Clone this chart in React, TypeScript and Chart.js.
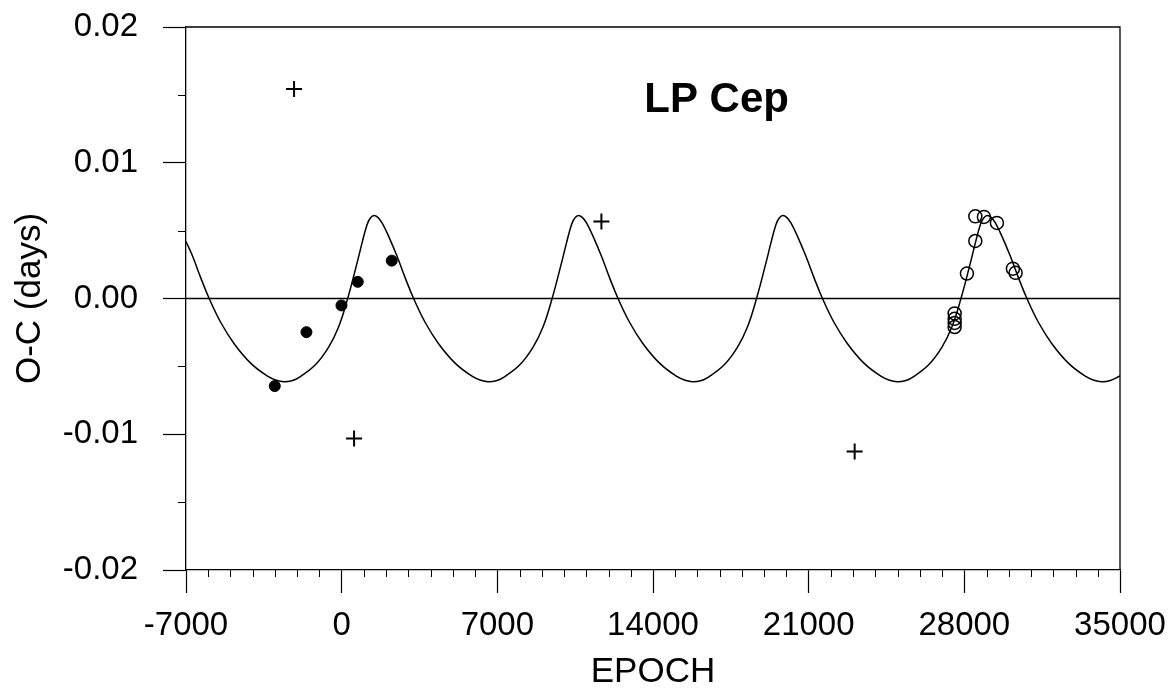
import React, { useEffect, useRef } from "react";
import { Chart, registerables } from "chart.js";

Chart.register(...registerables);

// ---- Data ----
const curveEpoch = [
  -7000, -6702, -6331, -5958, -5442, -4843, -4081, -3336, -2936,
  -2607, -2243, -1933, -1183, -585, -135, 270, 693, 917, 1141, 1291, 1457, 1637, 1817, 2113, 2491, 2862, 3235, 3751, 4350, 5112, 5857, 6257,
  6586, 6950, 7260, 8010, 8608, 9058, 9463, 9886, 10110, 10334, 10484, 10650, 10830, 11010, 11306, 11684, 12055, 12428, 12944, 13543, 14305, 15050, 15450,
  15779, 16143, 16453, 17203, 17801, 18251, 18656, 19079, 19303, 19527, 19677, 19843, 20023, 20203, 20499, 20877, 21248, 21621, 22137, 22736, 23498, 24243, 24643,
  24972, 25336, 25646, 26396, 26994, 27444, 27849, 28272, 28496, 28720, 28870, 29036, 29216, 29396, 29692, 30070, 30441, 30814, 31330, 31929, 32691, 33436, 33836,
  34165, 34529, 35000,
];
const curveOC = [
  0.0042, 0.00311, 0.0015, 0, -0.00175, -0.00331, -0.00478, -0.00572, -0.00602,
  -0.00613, -0.00606, -0.00583, -0.00488, -0.00358, -0.00208, 0, 0.00262, 0.0041, 0.00544, 0.00593, 0.00612, 0.00596, 0.00557, 0.00458, 0.00311, 0.0015, 0, -0.00175, -0.00331, -0.00478, -0.00572, -0.00602,
  -0.00613, -0.00606, -0.00583, -0.00488, -0.00358, -0.00208, 0, 0.00262, 0.0041, 0.00544, 0.00593, 0.00612, 0.00596, 0.00557, 0.00458, 0.00311, 0.0015, 0, -0.00175, -0.00331, -0.00478, -0.00572, -0.00602,
  -0.00613, -0.00606, -0.00583, -0.00488, -0.00358, -0.00208, 0, 0.00262, 0.0041, 0.00544, 0.00593, 0.00612, 0.00596, 0.00557, 0.00458, 0.00311, 0.0015, 0, -0.00175, -0.00331, -0.00478, -0.00572, -0.00602,
  -0.00613, -0.00606, -0.00583, -0.00488, -0.00358, -0.00208, 0, 0.00262, 0.0041, 0.00544, 0.00593, 0.00612, 0.00596, 0.00557, 0.00458, 0.00311, 0.0015, 0, -0.00175, -0.00331, -0.00478, -0.00572, -0.00602,
  -0.00613, -0.00606, -0.0057,
];

// filled circles
const filledEpoch = [-3008, -1583, -9, 724, 2252];
const filledOC = [-0.00645, -0.00248, -0.00051, 0.00123, 0.00279];

// plus signs
const plusEpoch = [-2140, 558, 11680, 23068];
const plusOC = [0.01544, -0.01032, 0.00568, -0.01127];

// open circles
const openEpoch = [27564, 27564, 27564, 27564, 28117, 28494, 28494, 28881, 29466, 30185, 30306];
const openOC = [-0.0011, -0.0015, -0.0018, -0.0021, 0.00184, 0.00424, 0.00605, 0.00601, 0.00557, 0.0022, 0.00189];

const zeroEpoch = [-7000, 35000];
const zeroOC = [0, 0];

const xMin = -7000;
const xMax = 35000;
const xStep = 7000;
const xMinorStep = 1000;
const yMin = -0.02;
const yMax = 0.02;
const yStep = 0.01;
const yMinorStep = 0.005;

const titleText = "LP Cep";
const titleEpoch = 16860;
const titleOC = 0.0146;

const FONT = "'Liberation Sans', Arial, Helvetica, sans-serif";

const toPts = (xs: number[], ys: number[]) => xs.map((x, i) => ({ x, y: ys[i] }));

const framePlugin = {
  id: "frameAndMinor",
  afterDraw(chart: any) {
    const { ctx, chartArea, scales } = chart;
    const { left, right, top, bottom } = chartArea;
    ctx.save();
    ctx.strokeStyle = "#000";
    ctx.lineWidth = 1.3;
    ctx.beginPath();
    ctx.moveTo(left, top);
    ctx.lineTo(right, top);
    ctx.lineTo(right, bottom);
    ctx.stroke();
    ctx.lineWidth = 1;
    ctx.beginPath();
    for (let v = xMin; v <= xMax; v += xMinorStep) {
      if (v % xStep === 0) continue;
      const px = Math.round(scales.x.getPixelForValue(v)) + 0.5;
      ctx.moveTo(px, bottom);
      ctx.lineTo(px, bottom + 7);
    }
    for (let k = 0; k <= Math.round((yMax - yMin) / yMinorStep); k++) {
      if (k % 2 === 0) continue;
      const v = yMin + k * yMinorStep;
      const py = Math.round(scales.y.getPixelForValue(v)) + 0.5;
      ctx.moveTo(left, py);
      ctx.lineTo(left - 8, py);
    }
    ctx.stroke();
    ctx.fillStyle = "#000";
    ctx.font = `bold 42px ${FONT}`;
    ctx.textAlign = "center";
    ctx.textBaseline = "middle";
    ctx.fillText(titleText, scales.x.getPixelForValue(titleEpoch), scales.y.getPixelForValue(titleOC));
    ctx.restore();
  },
};

export default function App() {
  const ref = useRef<HTMLCanvasElement>(null);
  useEffect(() => {
    if (!ref.current) return;
    const chart = new Chart(ref.current, {
      type: "scatter",
      data: {
        datasets: [
          {
            data: toPts(zeroEpoch, zeroOC),
            showLine: true,
            borderColor: "#000",
            borderWidth: 1.3,
            pointRadius: 0,
          },
          {
            data: toPts(curveEpoch, curveOC),
            showLine: true,
            borderColor: "#000",
            borderWidth: 1.5,
            pointRadius: 0,
            tension: 0.4,
          },
          {
            data: toPts(filledEpoch, filledOC),
            pointStyle: "circle",
            pointRadius: 5.5,
            backgroundColor: "#000",
            borderColor: "#000",
            borderWidth: 1,
          },
          {
            data: toPts(openEpoch, openOC),
            pointStyle: "circle",
            pointRadius: 6.5,
            backgroundColor: "rgba(0,0,0,0)",
            borderColor: "#000",
            borderWidth: 1.5,
          },
          {
            data: toPts(plusEpoch, plusOC),
            pointStyle: "cross",
            pointRadius: 8,
            borderColor: "#000",
            borderWidth: 2,
          },
        ],
      },
      options: {
        animation: false,
        responsive: true,
        maintainAspectRatio: false,
        layout: { padding: { top: 27, right: 53, left: 0, bottom: 0 } },
        plugins: { legend: { display: false }, tooltip: { enabled: false }, title: { display: false } },
        scales: {
          x: {
            type: "linear",
            min: xMin,
            max: xMax,
            afterFit: (s: any) => { s.height = 125; s.paddingLeft = 0; s.paddingRight = 0; },
            ticks: {
              stepSize: xStep,
              color: "#000",
              font: { family: FONT, size: 33, lineHeight: 1.2 },
              padding: 13,
              maxRotation: 0,
              autoSkip: false,
              callback: (v: any) => String(v),
            },
            grid: { display: true, drawOnChartArea: false, drawTicks: true, tickLength: 23, tickColor: "#000", tickWidth: 1.2 },
            border: { display: true, color: "#000", width: 1.3 },
            title: { display: true, text: "EPOCH", color: "#000", font: { family: FONT, size: 35, lineHeight: 1.2 }, padding: { top: 0, bottom: 2 } },
          },
          y: {
            type: "linear",
            min: yMin,
            max: yMax,
            afterFit: (s: any) => { s.width = 186; s.paddingTop = 0; s.paddingBottom = 0; },
            ticks: {
              stepSize: yStep,
              color: "#000",
              font: { family: FONT, size: 33, lineHeight: 1.2 },
              padding: 25,
              callback: (v: any) => {
                const r = Math.round(Number(v) * 100) / 100;
                return (r === 0 ? 0 : r).toFixed(2);
              },
            },
            grid: { display: true, drawOnChartArea: false, drawTicks: true, tickLength: 23, tickColor: "#000", tickWidth: 1.2 },
            border: { display: true, color: "#000", width: 1.3 },
            title: { display: true, text: "O-C (days)", color: "#000", font: { family: FONT, size: 35, lineHeight: 1.2 }, padding: { top: 9, bottom: 0 } },
          },
        },
      },
      plugins: [framePlugin],
    } as any);
    return () => chart.destroy();
  }, []);
  return (
    <div style={{ position: "fixed", left: 0, top: 0, width: 1173, height: 695, background: "#fff" }}>
      <canvas ref={ref} />
    </div>
  );
}
